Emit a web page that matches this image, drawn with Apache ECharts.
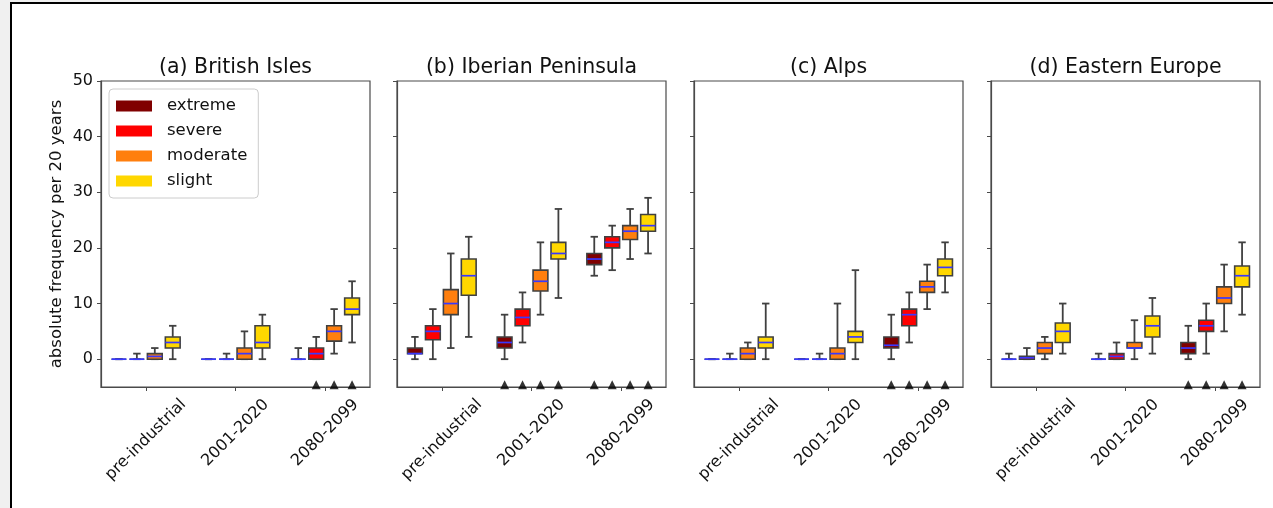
<!DOCTYPE html>
<html>
<head>
<meta charset="utf-8">
<script src="https://cdn.jsdelivr.net/npm/echarts@6/dist/echarts.min.js"></script>
<style>
  html, body { margin: 0; padding: 0; background: #f0f0f0; }
  #frame {
    position: absolute; left: 10px; top: 2px;
    width: 1261px; height: 504px;
    background: #fff;
    border-left: 2px solid #000; border-top: 2px solid #000;
  }
  #chart { width: 1261px; height: 504px; }
</style>
</head>
<body>
<div id="frame"><div id="chart"></div></div>
<script>
// categories
const periods = ['pre-industrial', '2001-2020', '2080-2099'];
const severities = ['extreme', 'severe', 'moderate', 'slight'];
const regionTitles = ['(a) British Isles', '(b) Iberian Peninsula', '(c) Alps', '(d) Eastern Europe'];
const yTicks = [0, 10, 20, 30, 40, 50];

// box stats [min, q1, median, q3, max]; rows = severity, cols = period
const britishIsles = [
  [[0, 0, 0, 0, 0], [0, 0, 0, 0, 0], [0, 0, 0, 0, 2]],
  [[0, 0, 0, 0, 1], [0, 0, 0, 0, 1], [0, 0, 1, 2, 4]],
  [[0, 0, 0.5, 1, 2], [0, 0, 1, 2, 5], [1, 3.25, 5, 6, 9]],
  [[0, 2, 3, 4, 6], [0, 2, 3, 6, 8], [3, 8, 9, 11, 14]]
];
const iberianPeninsula = [
  [[0, 1, 1, 2, 4], [0, 2, 3, 4, 8], [15, 17, 18, 19, 22]],
  [[0, 3.5, 5, 6, 9], [3, 6, 7.5, 9, 12], [16, 20, 21, 22, 24]],
  [[2, 8, 10, 12.5, 19], [8, 12.25, 14, 16, 21], [18, 21.5, 23, 24, 27]],
  [[4, 11.5, 15, 18, 22], [11, 18, 19, 21, 27], [19, 23, 24, 26, 29]]
];
const alps = [
  [[0, 0, 0, 0, 0], [0, 0, 0, 0, 0], [0, 2, 2.5, 4, 8]],
  [[0, 0, 0, 0, 1], [0, 0, 0, 0, 1], [3, 6, 8, 9, 12]],
  [[0, 0, 1, 2, 3], [0, 0, 1, 2, 10], [9, 12, 13, 14, 17]],
  [[0, 2, 3, 4, 10], [0, 3, 4, 5, 16], [12, 15, 16.5, 18, 21]]
];
const easternEurope = [
  [[0, 0, 0, 0, 1], [0, 0, 0, 0, 1], [0, 1, 2, 3, 6]],
  [[0, 0, 0.25, 0.5, 2], [0, 0, 0.5, 1, 3], [1, 5, 6, 7, 10]],
  [[0, 1, 2, 3, 4], [0, 2, 2, 3, 7], [5, 10, 11, 13, 17]],
  [[1, 3, 5, 6.5, 10], [1, 4, 6, 7.75, 11], [8, 13, 15, 16.75, 21]]
];

// triangle markers under boxes (1 = shown); rows = severity, cols = period
const britishMarks = [[0, 0, 0], [0, 0, 1], [0, 0, 1], [0, 0, 1]];
const iberianMarks = [[0, 1, 1], [0, 1, 1], [0, 1, 1], [0, 1, 1]];
const alpsMarks = [[0, 0, 1], [0, 0, 1], [0, 0, 1], [0, 0, 1]];
const easternMarks = [[0, 0, 1], [0, 0, 1], [0, 0, 1], [0, 0, 1]];

const regions = [britishIsles, iberianPeninsula, alps, easternEurope];
const regionMarks = [britishMarks, iberianMarks, alpsMarks, easternMarks];

// styling / layout
const colors = ['#800000', '#ff0000', '#ff7f0e', '#ffd700'];
const medianColor = '#3838ff';
const edgeColor = '#404040';
const spineColor = '#4a4a4a';
const textColor = '#111';
const FONT = '"DejaVu Sans", sans-serif';
const panelLeft = [89, 385, 682, 979];
const PANEL_TOP = 77;
const PANEL_W = 269;
const PANEL_H = 306;
const BOX_OFFSETS = [-0.3, -0.1, 0.1, 0.3];
const BOX_WIDTH = 0.165;
const MARK_Y = -4.6;

// matplotlib centres rotated tick labels under the tick; shift the anchor accordingly
const ctx = document.createElement('canvas').getContext('2d');
ctx.font = '16px ' + FONT;
const pxPerUnit = PANEL_W / 3;
const labelPos = periods.map((p, i) => i + 1 + 0.3535 * ctx.measureText(p).width / pxPerUnit);

function renderBox(params, api) {
  const x = api.value(0);
  const pLo = api.coord([x, api.value(1)]);
  const pQ1 = api.coord([x, api.value(2)]);
  const pMd = api.coord([x, api.value(3)]);
  const pQ3 = api.coord([x, api.value(4)]);
  const pHi = api.coord([x, api.value(5)]);
  const bw = api.size([BOX_WIDTH, 0])[0];
  const cw = bw / 2;
  const cx = pMd[0];
  const lineStyle = { stroke: edgeColor, lineWidth: 1.8 };
  return {
    type: 'group',
    children: [
      { type: 'line', shape: { x1: cx, y1: pQ1[1], x2: cx, y2: pLo[1] }, style: lineStyle },
      { type: 'line', shape: { x1: cx, y1: pQ3[1], x2: cx, y2: pHi[1] }, style: lineStyle },
      { type: 'line', shape: { x1: cx - cw / 2, y1: pLo[1], x2: cx + cw / 2, y2: pLo[1] }, style: lineStyle },
      { type: 'line', shape: { x1: cx - cw / 2, y1: pHi[1], x2: cx + cw / 2, y2: pHi[1] }, style: lineStyle },
      {
        type: 'rect',
        shape: { x: cx - bw / 2, y: pQ3[1], width: bw, height: pQ1[1] - pQ3[1] },
        style: { fill: api.visual('color'), stroke: edgeColor, lineWidth: 1.6 }
      },
      {
        type: 'line',
        shape: { x1: cx - bw / 2, y1: pMd[1], x2: cx + bw / 2, y2: pMd[1] },
        style: { stroke: medianColor, lineWidth: 1.7 }
      }
    ]
  };
}

const grids = [], xAxes = [], yAxes = [], series = [];

regions.forEach((stats, r) => {
  grids.push({
    left: panelLeft[r], top: PANEL_TOP, width: PANEL_W, height: PANEL_H,
    show: true, borderColor: spineColor, borderWidth: 1.2, backgroundColor: 'transparent'
  });
  xAxes.push({
    type: 'value', gridIndex: r, min: 0.5, max: 3.5,
    axisLine: { show: true, onZero: false, lineStyle: { color: spineColor, width: 1.2 } },
    splitLine: { show: false },
    axisTick: { show: true, customValues: [1, 2, 3], length: 4, lineStyle: { color: spineColor } },
    axisLabel: {
      customValues: labelPos, rotate: 45, margin: 15,
      fontSize: 16, fontFamily: FONT, color: textColor,
      formatter: (v) => {
        const j = labelPos.findIndex(p => Math.abs(p - v) < 1e-6);
        return j >= 0 ? periods[j] : '';
      }
    }
  });
  yAxes.push({
    type: 'value', gridIndex: r, min: -5, max: 50,
    axisLine: { show: true, lineStyle: { color: spineColor, width: 1.2 } },
    splitLine: { show: false },
    axisTick: { show: true, customValues: yTicks, length: 4, lineStyle: { color: spineColor } },
    axisLabel: {
      show: r === 0, customValues: yTicks, margin: 8,
      fontSize: 16, fontFamily: FONT, color: textColor
    },
    name: r === 0 ? 'absolute frequency per 20 years' : '',
    nameLocation: 'middle', nameGap: 36,
    nameTextStyle: { fontSize: 16.5, fontFamily: FONT, color: textColor }
  });

  severities.forEach((sev, s) => {
    series.push({
      type: 'custom', name: sev, xAxisIndex: r, yAxisIndex: r,
      itemStyle: { color: colors[s] },
      renderItem: renderBox,
      encode: { x: 0, y: [1, 2, 3, 4, 5] },
      data: stats[s].map((row, p) => [p + 1 + BOX_OFFSETS[s]].concat(row)),
      z: 2
    });
  });

  const marks = [];
  regionMarks[r].forEach((row, s) => {
    row.forEach((m, p) => { if (m) marks.push([p + 1 + BOX_OFFSETS[s], MARK_Y]); });
  });
  series.push({
    type: 'scatter', name: 'marks', xAxisIndex: r, yAxisIndex: r,
    symbol: 'triangle', symbolSize: 9,
    itemStyle: { color: '#000' },
    data: marks, z: 3
  });
});

const chart = echarts.init(document.getElementById('chart'), null, { renderer: 'canvas' });
chart.setOption({
  backgroundColor: '#fff',
  animation: false,
  title: regionTitles.map((t, i) => ({
    text: t, left: panelLeft[i] + PANEL_W / 2, top: 53, textAlign: 'center', padding: 0,
    textStyle: { fontSize: 20.5, fontWeight: 'normal', fontFamily: FONT, color: textColor }
  })),
  legend: {
    data: severities, orient: 'vertical', left: 97, top: 85,
    itemWidth: 36, itemHeight: 11, itemGap: 7, icon: 'rect',
    selectedMode: false,
    borderColor: '#cccccc', borderWidth: 1, borderRadius: 4,
    padding: [8, 11, 8, 7],
    textStyle: { fontSize: 16.5, fontFamily: FONT, color: textColor, padding: [0, 0, 0, 10], lineHeight: 18 }
  },
  grid: grids,
  xAxis: xAxes,
  yAxis: yAxes,
  series: series
});
</script>
</body>
</html>
